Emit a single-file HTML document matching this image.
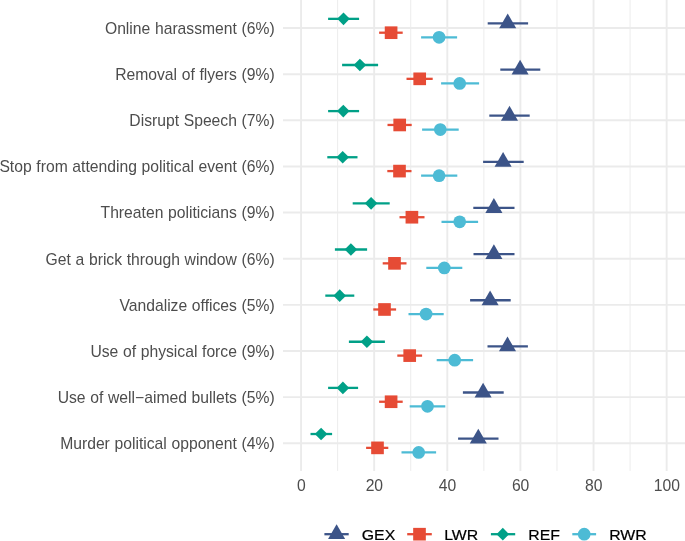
<!DOCTYPE html>
<html><head><meta charset="utf-8"><title>chart</title>
<style>html,body{margin:0;padding:0;background:#fff;}svg{display:block;will-change:transform;}text{font-family:"Liberation Sans",sans-serif;}</style></head><body>
<svg width="685" height="541" viewBox="0 0 685 541">
<rect width="685" height="541" fill="#ffffff"/>
<g stroke="#EBEBEB" fill="none">
<line x1="337.61" y1="0.0" x2="337.61" y2="470.9" stroke-width="0.95"/>
<line x1="410.73" y1="0.0" x2="410.73" y2="470.9" stroke-width="0.95"/>
<line x1="483.85" y1="0.0" x2="483.85" y2="470.9" stroke-width="0.95"/>
<line x1="556.97" y1="0.0" x2="556.97" y2="470.9" stroke-width="0.95"/>
<line x1="630.09" y1="0.0" x2="630.09" y2="470.9" stroke-width="0.95"/>
<line x1="301.05" y1="0.0" x2="301.05" y2="470.9" stroke-width="1.9"/>
<line x1="374.17" y1="0.0" x2="374.17" y2="470.9" stroke-width="1.9"/>
<line x1="447.29" y1="0.0" x2="447.29" y2="470.9" stroke-width="1.9"/>
<line x1="520.41" y1="0.0" x2="520.41" y2="470.9" stroke-width="1.9"/>
<line x1="593.53" y1="0.0" x2="593.53" y2="470.9" stroke-width="1.9"/>
<line x1="666.65" y1="0.0" x2="666.65" y2="470.9" stroke-width="1.9"/>
<line x1="283.0" y1="28.05" x2="685.0" y2="28.05" stroke-width="1.9"/>
<line x1="283.0" y1="74.18" x2="685.0" y2="74.18" stroke-width="1.9"/>
<line x1="283.0" y1="120.31" x2="685.0" y2="120.31" stroke-width="1.9"/>
<line x1="283.0" y1="166.44" x2="685.0" y2="166.44" stroke-width="1.9"/>
<line x1="283.0" y1="212.57" x2="685.0" y2="212.57" stroke-width="1.9"/>
<line x1="283.0" y1="258.70" x2="685.0" y2="258.70" stroke-width="1.9"/>
<line x1="283.0" y1="304.83" x2="685.0" y2="304.83" stroke-width="1.9"/>
<line x1="283.0" y1="350.96" x2="685.0" y2="350.96" stroke-width="1.9"/>
<line x1="283.0" y1="397.09" x2="685.0" y2="397.09" stroke-width="1.9"/>
<line x1="283.0" y1="443.22" x2="685.0" y2="443.22" stroke-width="1.9"/>
</g>
<line x1="328.1" y1="18.85" x2="359.1" y2="18.85" stroke="#00A087" stroke-width="2.3"/>
<polygon points="337.20,18.85 343.50,12.50 349.80,18.85 343.50,25.20" fill="#00A087"/>
<line x1="487.70000000000005" y1="23.45" x2="528.1" y2="23.45" stroke="#3C5488" stroke-width="2.3"/>
<polygon points="507.70,13.60 516.23,28.37 499.17,28.37" fill="#3C5488"/>
<line x1="379.1" y1="32.70" x2="402.70000000000005" y2="32.70" stroke="#E64B35" stroke-width="2.3"/>
<rect x="384.77" y="26.37" width="12.66" height="12.66" fill="#E64B35"/>
<line x1="421.1" y1="37.30" x2="457.1" y2="37.30" stroke="#4DBBD5" stroke-width="2.3"/>
<circle cx="439.10" cy="37.30" r="6.35" fill="#4DBBD5"/>
<line x1="342.1" y1="64.98" x2="378.1" y2="64.98" stroke="#00A087" stroke-width="2.3"/>
<polygon points="353.60,64.98 359.90,58.63 366.20,64.98 359.90,71.33" fill="#00A087"/>
<line x1="500.3" y1="69.58" x2="540.3000000000001" y2="69.58" stroke="#3C5488" stroke-width="2.3"/>
<polygon points="520.10,59.73 528.63,74.50 511.57,74.50" fill="#3C5488"/>
<line x1="406.5" y1="78.83" x2="432.70000000000005" y2="78.83" stroke="#E64B35" stroke-width="2.3"/>
<rect x="413.37" y="72.50" width="12.66" height="12.66" fill="#E64B35"/>
<line x1="441.1" y1="83.43" x2="479.1" y2="83.43" stroke="#4DBBD5" stroke-width="2.3"/>
<circle cx="459.70" cy="83.43" r="6.35" fill="#4DBBD5"/>
<line x1="328.1" y1="111.11" x2="359.1" y2="111.11" stroke="#00A087" stroke-width="2.3"/>
<polygon points="337.00,111.11 343.30,104.76 349.60,111.11 343.30,117.46" fill="#00A087"/>
<line x1="489.3" y1="115.71" x2="529.7" y2="115.71" stroke="#3C5488" stroke-width="2.3"/>
<polygon points="509.50,105.86 518.03,120.63 500.97,120.63" fill="#3C5488"/>
<line x1="387.5" y1="124.96" x2="411.70000000000005" y2="124.96" stroke="#E64B35" stroke-width="2.3"/>
<rect x="393.37" y="118.63" width="12.66" height="12.66" fill="#E64B35"/>
<line x1="422.1" y1="129.56" x2="458.70000000000005" y2="129.56" stroke="#4DBBD5" stroke-width="2.3"/>
<circle cx="440.30" cy="129.56" r="6.35" fill="#4DBBD5"/>
<line x1="327.3" y1="157.24" x2="357.5" y2="157.24" stroke="#00A087" stroke-width="2.3"/>
<polygon points="336.40,157.24 342.70,150.89 349.00,157.24 342.70,163.59" fill="#00A087"/>
<line x1="483.1" y1="161.84" x2="523.7" y2="161.84" stroke="#3C5488" stroke-width="2.3"/>
<polygon points="503.10,151.99 511.63,166.76 494.57,166.76" fill="#3C5488"/>
<line x1="387.3" y1="171.09" x2="411.5" y2="171.09" stroke="#E64B35" stroke-width="2.3"/>
<rect x="393.17" y="164.76" width="12.66" height="12.66" fill="#E64B35"/>
<line x1="421.1" y1="175.69" x2="457.3" y2="175.69" stroke="#4DBBD5" stroke-width="2.3"/>
<circle cx="439.10" cy="175.69" r="6.35" fill="#4DBBD5"/>
<line x1="352.70000000000005" y1="203.37" x2="389.70000000000005" y2="203.37" stroke="#00A087" stroke-width="2.3"/>
<polygon points="364.80,203.37 371.10,197.02 377.40,203.37 371.10,209.72" fill="#00A087"/>
<line x1="473.3" y1="207.97" x2="514.5" y2="207.97" stroke="#3C5488" stroke-width="2.3"/>
<polygon points="493.90,198.12 502.43,212.89 485.37,212.89" fill="#3C5488"/>
<line x1="399.5" y1="217.22" x2="424.5" y2="217.22" stroke="#E64B35" stroke-width="2.3"/>
<rect x="405.57" y="210.89" width="12.66" height="12.66" fill="#E64B35"/>
<line x1="441.5" y1="221.82" x2="478.1" y2="221.82" stroke="#4DBBD5" stroke-width="2.3"/>
<circle cx="459.70" cy="221.82" r="6.35" fill="#4DBBD5"/>
<line x1="334.90000000000003" y1="249.50" x2="367.1" y2="249.50" stroke="#00A087" stroke-width="2.3"/>
<polygon points="344.60,249.50 350.90,243.15 357.20,249.50 350.90,255.85" fill="#00A087"/>
<line x1="473.5" y1="254.10" x2="514.5" y2="254.10" stroke="#3C5488" stroke-width="2.3"/>
<polygon points="493.90,244.25 502.43,259.02 485.37,259.02" fill="#3C5488"/>
<line x1="382.70000000000005" y1="263.35" x2="406.5" y2="263.35" stroke="#E64B35" stroke-width="2.3"/>
<rect x="388.17" y="257.02" width="12.66" height="12.66" fill="#E64B35"/>
<line x1="426.3" y1="267.95" x2="462.3" y2="267.95" stroke="#4DBBD5" stroke-width="2.3"/>
<circle cx="444.30" cy="267.95" r="6.35" fill="#4DBBD5"/>
<line x1="325.3" y1="295.63" x2="354.3" y2="295.63" stroke="#00A087" stroke-width="2.3"/>
<polygon points="333.40,295.63 339.70,289.28 346.00,295.63 339.70,301.98" fill="#00A087"/>
<line x1="470.1" y1="300.23" x2="510.70000000000005" y2="300.23" stroke="#3C5488" stroke-width="2.3"/>
<polygon points="490.10,290.38 498.63,305.15 481.57,305.15" fill="#3C5488"/>
<line x1="373.3" y1="309.48" x2="396.1" y2="309.48" stroke="#E64B35" stroke-width="2.3"/>
<rect x="378.17" y="303.15" width="12.66" height="12.66" fill="#E64B35"/>
<line x1="408.5" y1="314.08" x2="443.70000000000005" y2="314.08" stroke="#4DBBD5" stroke-width="2.3"/>
<circle cx="426.10" cy="314.08" r="6.35" fill="#4DBBD5"/>
<line x1="348.90000000000003" y1="341.76" x2="384.90000000000003" y2="341.76" stroke="#00A087" stroke-width="2.3"/>
<polygon points="360.60,341.76 366.90,335.41 373.20,341.76 366.90,348.11" fill="#00A087"/>
<line x1="487.5" y1="346.36" x2="527.9" y2="346.36" stroke="#3C5488" stroke-width="2.3"/>
<polygon points="507.50,336.51 516.03,351.28 498.97,351.28" fill="#3C5488"/>
<line x1="397.3" y1="355.61" x2="422.1" y2="355.61" stroke="#E64B35" stroke-width="2.3"/>
<rect x="403.37" y="349.28" width="12.66" height="12.66" fill="#E64B35"/>
<line x1="436.70000000000005" y1="360.21" x2="473.1" y2="360.21" stroke="#4DBBD5" stroke-width="2.3"/>
<circle cx="454.70" cy="360.21" r="6.35" fill="#4DBBD5"/>
<line x1="328.1" y1="387.89" x2="358.1" y2="387.89" stroke="#00A087" stroke-width="2.3"/>
<polygon points="336.60,387.89 342.90,381.54 349.20,387.89 342.90,394.24" fill="#00A087"/>
<line x1="462.90000000000003" y1="392.49" x2="503.70000000000005" y2="392.49" stroke="#3C5488" stroke-width="2.3"/>
<polygon points="483.10,382.64 491.63,397.41 474.57,397.41" fill="#3C5488"/>
<line x1="379.1" y1="401.74" x2="402.70000000000005" y2="401.74" stroke="#E64B35" stroke-width="2.3"/>
<rect x="384.77" y="395.41" width="12.66" height="12.66" fill="#E64B35"/>
<line x1="409.70000000000005" y1="406.34" x2="445.3" y2="406.34" stroke="#4DBBD5" stroke-width="2.3"/>
<circle cx="427.50" cy="406.34" r="6.35" fill="#4DBBD5"/>
<line x1="310.5" y1="434.02" x2="332.1" y2="434.02" stroke="#00A087" stroke-width="2.3"/>
<polygon points="314.80,434.02 321.10,427.67 327.40,434.02 321.10,440.37" fill="#00A087"/>
<line x1="458.1" y1="438.62" x2="498.5" y2="438.62" stroke="#3C5488" stroke-width="2.3"/>
<polygon points="478.30,428.77 486.83,443.54 469.77,443.54" fill="#3C5488"/>
<line x1="366.1" y1="447.87" x2="388.3" y2="447.87" stroke="#E64B35" stroke-width="2.3"/>
<rect x="371.17" y="441.54" width="12.66" height="12.66" fill="#E64B35"/>
<line x1="401.5" y1="452.47" x2="436.1" y2="452.47" stroke="#4DBBD5" stroke-width="2.3"/>
<circle cx="418.70" cy="452.47" r="6.35" fill="#4DBBD5"/>
<g font-size="15.7" fill="#4D4D4D" text-anchor="end" word-spacing="0.3">
<text x="274.7" y="33.95">Online harassment (6%)</text>
<text x="274.7" y="80.08">Removal of flyers (9%)</text>
<text x="274.7" y="126.21">Disrupt Speech (7%)</text>
<text x="274.7" y="172.34">Stop from attending political event (6%)</text>
<text x="274.7" y="218.47">Threaten politicians (9%)</text>
<text x="274.7" y="264.60">Get a brick through window (6%)</text>
<text x="274.7" y="310.73">Vandalize offices (5%)</text>
<text x="274.7" y="356.86">Use of physical force (9%)</text>
<text x="274.7" y="402.99">Use of well−aimed bullets (5%)</text>
<text x="274.7" y="449.12">Murder political opponent (4%)</text>
</g>
<g font-size="15.7" fill="#4D4D4D" text-anchor="middle">
<text x="301.25" y="490.6">0</text>
<text x="374.37" y="490.6">20</text>
<text x="447.49" y="490.6">40</text>
<text x="520.61" y="490.6">60</text>
<text x="593.73" y="490.6">80</text>
<text x="666.85" y="490.6">100</text>
</g>
<line x1="324.4" y1="534.2" x2="348.7" y2="534.2" stroke="#3C5488" stroke-width="2.3"/>
<polygon points="336.60,524.35 345.13,539.12 328.07,539.12" fill="#3C5488"/>
<text transform="translate(361.80,539.75) scale(1.10,1)" font-size="14.4" fill="#000" stroke="#000" stroke-width="0.2">GEX</text>
<line x1="407.2" y1="534.2" x2="431.8" y2="534.2" stroke="#E64B35" stroke-width="2.3"/>
<rect x="413.17" y="527.87" width="12.66" height="12.66" fill="#E64B35"/>
<text transform="translate(444.20,539.75) scale(1.10,1)" font-size="14.4" fill="#000" stroke="#000" stroke-width="0.2">LWR</text>
<line x1="490.9" y1="534.2" x2="515.2" y2="534.2" stroke="#00A087" stroke-width="2.3"/>
<polygon points="496.50,534.20 502.80,527.85 509.10,534.20 502.80,540.55" fill="#00A087"/>
<text transform="translate(528.30,539.75) scale(1.10,1)" font-size="14.4" fill="#000" stroke="#000" stroke-width="0.2">REF</text>
<line x1="572.3" y1="534.2" x2="596.1" y2="534.2" stroke="#4DBBD5" stroke-width="2.3"/>
<circle cx="584.20" cy="534.20" r="6.35" fill="#4DBBD5"/>
<text transform="translate(609.20,539.75) scale(1.10,1)" font-size="14.4" fill="#000" stroke="#000" stroke-width="0.2">RWR</text>
</svg></body></html>
